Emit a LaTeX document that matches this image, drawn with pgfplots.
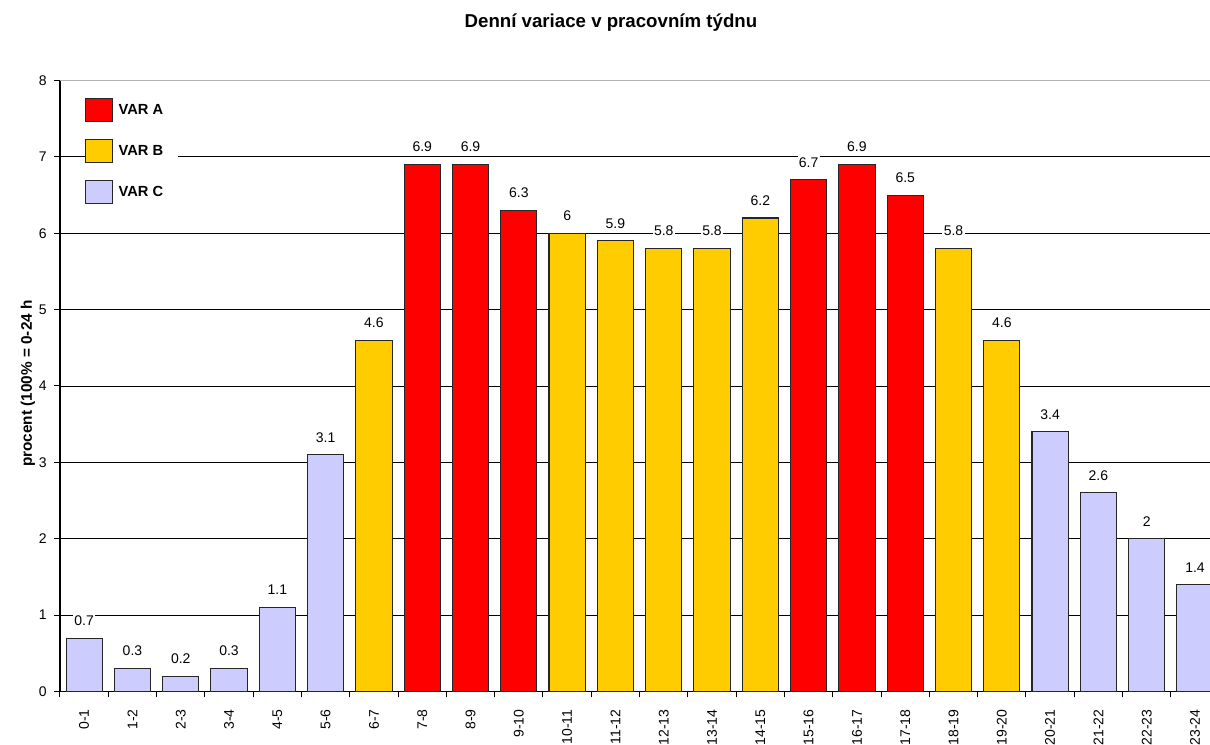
\documentclass[border=0pt]{standalone}
\usepackage{fontspec}
\setmainfont{Liberation Sans}
\usepackage{pgfplots}
\pgfplotsset{compat=1.18}
\definecolor{varA}{HTML}{FF0000}
\definecolor{varB}{HTML}{FFCC00}
\definecolor{varC}{HTML}{CCCCFF}
\pgfplotsset{mybar/.style={fill=#1, draw=black!85, line width=0.8pt,
  legend image code/.code={\draw[fill=#1, draw=black!85, line width=0.8pt] (0pt,-8.625pt) rectangle (20.25pt,8.625pt);}}}
\begin{document}
\begin{tikzpicture}
\begin{axis}[
  at={(0,0)}, anchor=south west,
  scale only axis, width=862.5pt, height=458.25pt,
  xmin=-0.5, xmax=23.31, ymin=0, ymax=8,
  axis x line*=bottom, axis y line*=left,
  axis line style={line width=0.9pt, -},
  ybar, bar width=0.75, bar shift=0pt,
  /pgf/number format/assume math mode=true,
  ytick={0,...,7}, extra y ticks={8},
  extra y tick style={grid=major, grid style={gray!60, line width=0.8pt}},
  ymajorgrids, grid style={black, line width=0.6pt},
  tick align=outside, major tick length=4.5pt,
  tick style={black, line width=0.75pt},
  yticklabel style={font=\fontsize{10.5}{12}\selectfont},
  yticklabel shift=2pt,
  xtick={-0.5,0.5,...,23.5}, xticklabels={},
  extra x ticks={0,...,23},
  extra x tick labels={0-1,1-2,2-3,3-4,4-5,5-6,6-7,7-8,8-9,9-10,10-11,11-12,12-13,13-14,14-15,15-16,16-17,17-18,18-19,19-20,20-21,21-22,22-23,23-24},
  extra x tick style={major tick length=0pt, xticklabel shift=10pt,
    x tick label style={rotate=90, anchor=east, font=\fontsize{10.5}{12}\selectfont}},
  title={Denní variace v pracovním týdnu},
  title style={at={(axis description cs:0.4791,1.0813)}, anchor=center, font=\fontsize{14}{16}\selectfont\bfseries},
  ylabel={procent (100\% = 0-24 h},
  ylabel style={at={(axis description cs:-0.0278,0.504)}, anchor=center, font=\fontsize{11.5}{13}\selectfont\bfseries},
  nodes near coords,
  every node near coord/.append style={font=\fontsize{10.5}{12}\selectfont, fill=white, inner sep=1pt, yshift=8pt, anchor=south},
  legend entries={VAR A\kern10pt,VAR B\kern10pt,VAR C\kern10pt},
  legend cell align=left,
  legend style={at={(axis description cs:0.0217,0.9717)}, anchor=north west, draw=none, fill=white,
    inner sep=0pt, row sep=12.8pt, column sep=3pt, font=\fontsize{11}{13}\selectfont\bfseries, nodes={inner sep=1pt}},
]
\addplot[mybar=varA] coordinates {(7,6.9) (8,6.9) (9,6.3) (15,6.7) (16,6.9) (17,6.5)};
\addplot[mybar=varB] coordinates {(6,4.6) (10,6) (11,5.9) (12,5.8) (13,5.8) (14,6.2) (18,5.8) (19,4.6)};
\addplot[mybar=varC] coordinates {(0,0.7) (1,0.3) (2,0.2) (3,0.3) (4,1.1) (5,3.1) (20,3.4) (21,2.6) (22,2) (23,1.4)};
\end{axis}
\pgfresetboundingbox
\useasboundingbox (-45pt,-40.125pt) rectangle (862.5pt,518.625pt);
\end{tikzpicture}
\end{document}
